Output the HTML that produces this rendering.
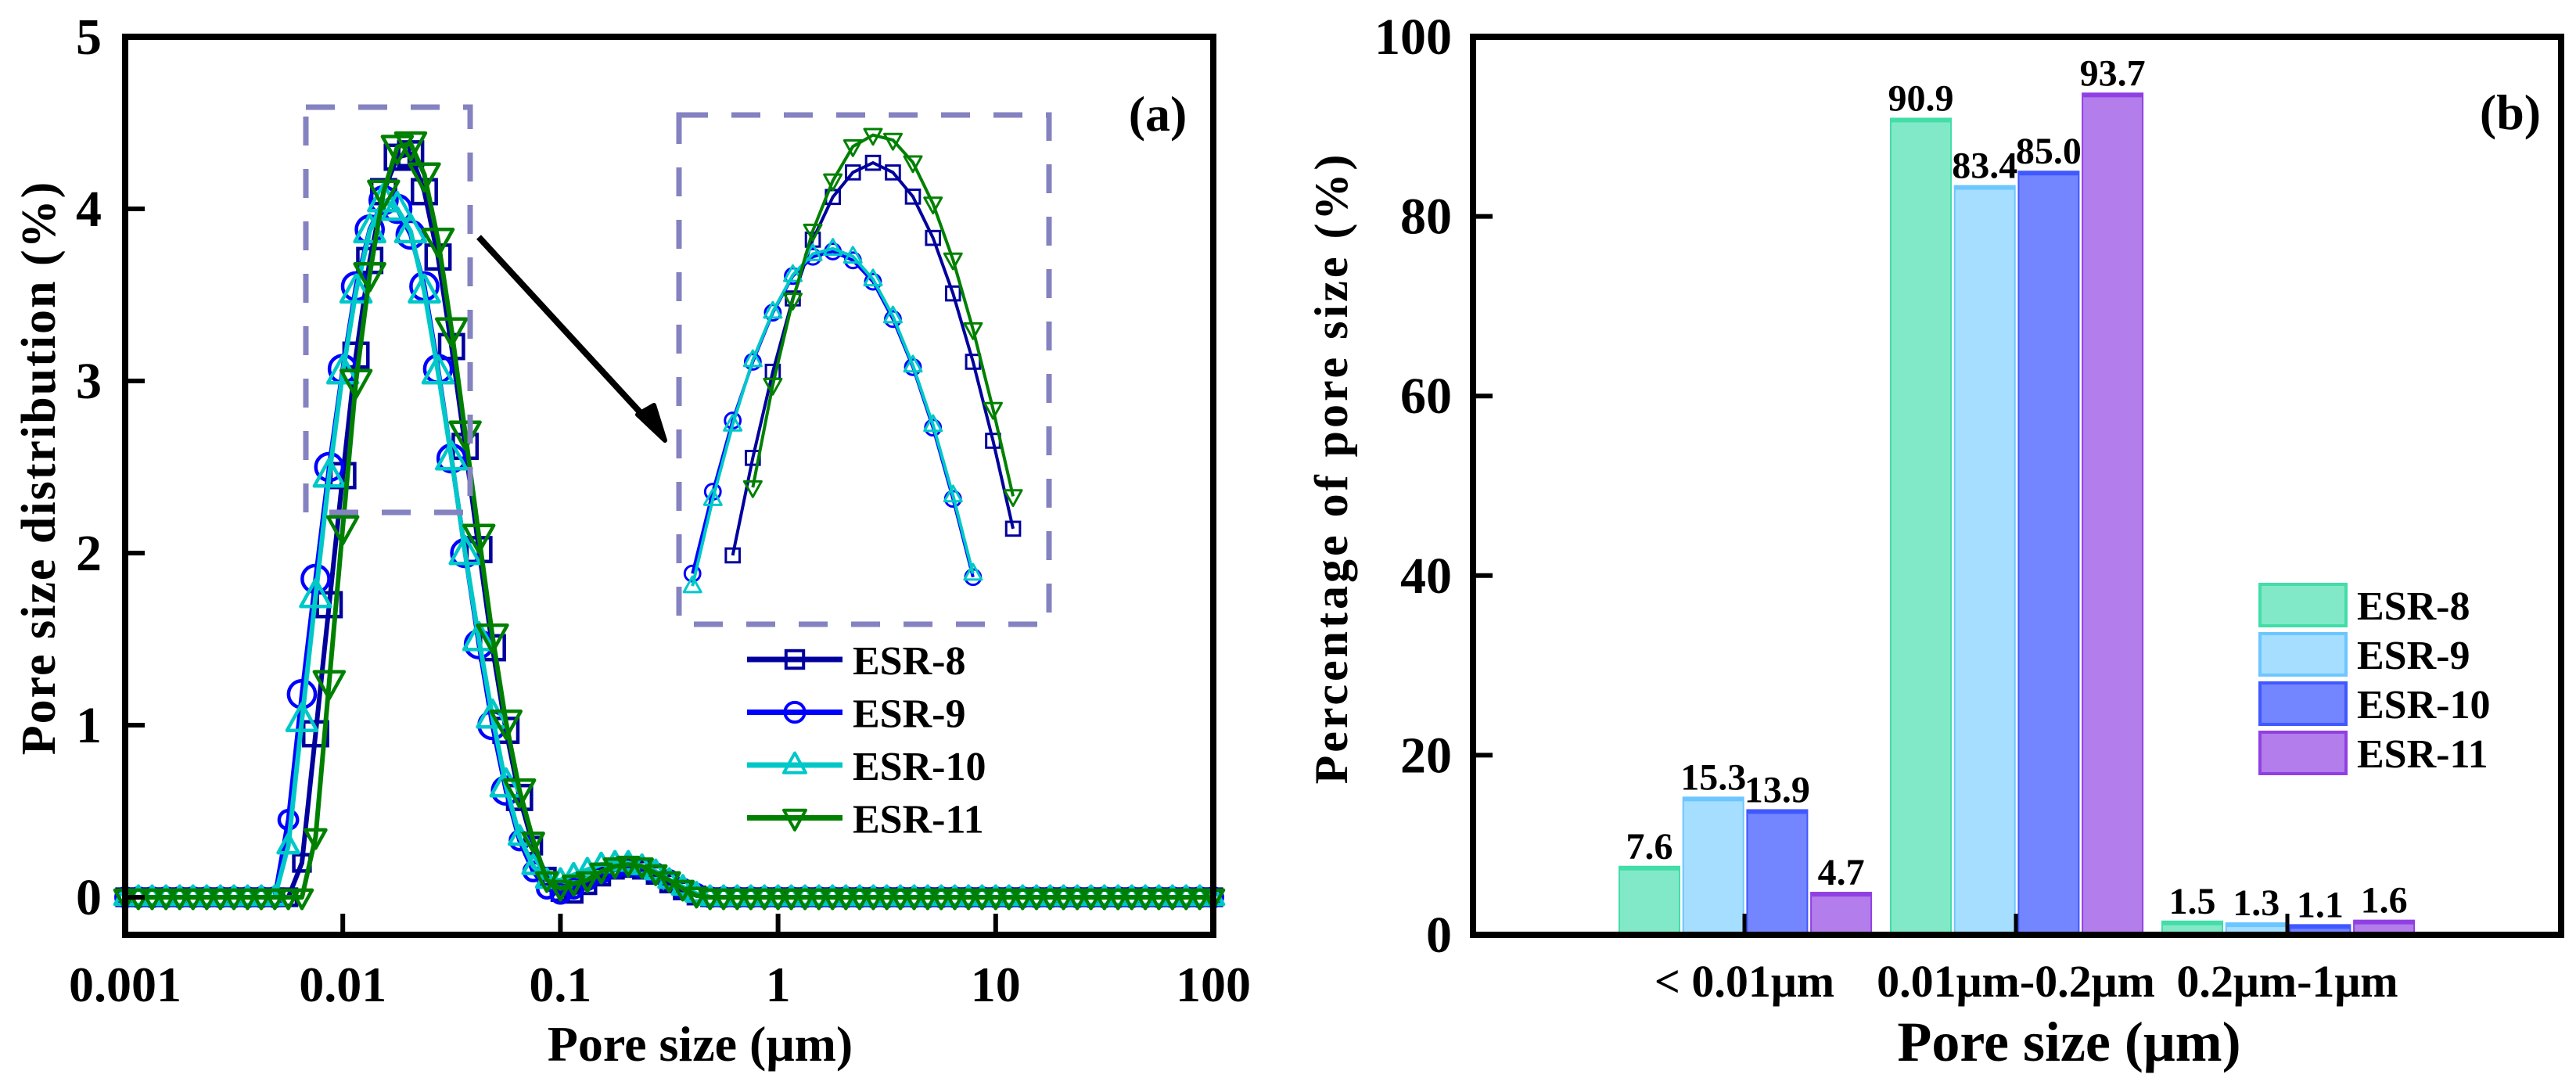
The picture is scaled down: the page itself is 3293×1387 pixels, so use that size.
<!DOCTYPE html>
<html><head><meta charset="utf-8">
<style>
html,body{margin:0;padding:0;background:#fff;}
svg{display:block;font-family:"Liberation Serif",serif;font-weight:bold;}
</style></head>
<body>
<svg id="fig" width="3293" height="1387" viewBox="0 0 3293 1387" xmlns="http://www.w3.org/2000/svg">
<g id="panelA"></g>
<g id="panelB"></g>
</svg>
<script>
// ---------- Panel (a) data ----------
const poreSizes = [0.001,0.00115,0.00133,0.00154,0.00178,0.00205,0.00237,0.00274,0.00316,0.00365,0.00422,0.00487,0.00562,0.00649,0.0075,0.00866,
0.01,0.0115,0.0133,0.0154,0.0178,0.0205,0.0237,0.0274,0.0316,0.0365,0.0422,0.0487,0.0562,0.0649,0.075,0.0866,
0.1,0.115,0.133,0.154,0.178,0.205,0.237,0.274,0.316,0.365,0.422,0.487,0.562,0.649,0.75,0.866,
1,1.15,1.33,1.54,1.78,2.05,2.37,2.74,3.16,3.65,4.22,4.87,5.62,6.49,7.5,8.66,
10,11.5,13.3,15.4,17.8,20.5,23.7,27.4,31.6,36.5,42.2,48.7,56.2,64.9,75,86.6,100];
const esr8 = [0,0,0,0,0,0,0,0,0,0,0,0,0,0.2,0.95,1.7,2.45,3.15,3.7,4.1,4.3,4.32,4.1,3.72,3.2,2.62,2.02,1.45,0.97,0.58,0.3,0.12,0.03,0.02,0.07,0.12,0.16,0.17,0.16,0.13,0.08,0.04,0.01,0,0,0,0,0,0,0,0,0,0,0,0,0,0,0,0,0,0,0,0,0,0,0,0,0,0,0,0,0,0,0,0,0,0,0,0,0,0];
const esr9 = [0,0,0,0,0,0,0,0,0,0,0,0,0.45,1.18,1.85,2.5,3.07,3.55,3.88,4.05,4.0,3.85,3.55,3.07,2.55,2.0,1.47,1.0,0.62,0.33,0.15,0.05,0.02,0.05,0.1,0.14,0.17,0.18,0.17,0.14,0.1,0.05,0.02,0,0,0,0,0,0,0,0,0,0,0,0,0,0,0,0,0,0,0,0,0,0,0,0,0,0,0,0,0,0,0,0,0,0,0,0,0,0];
const esr10 = [0,0,0,0,0,0,0,0,0,0,0,0,0.3,1.03,1.75,2.45,3.05,3.52,3.87,4.05,4.0,3.87,3.52,3.05,2.55,2.0,1.5,1.05,0.65,0.35,0.18,0.1,0.1,0.13,0.16,0.19,0.2,0.2,0.18,0.15,0.1,0.06,0.02,0,0,0,0,0,0,0,0,0,0,0,0,0,0,0,0,0,0,0,0,0,0,0,0,0,0,0,0,0,0,0,0,0,0,0,0,0,0];
const esr11 = [0,0,0,0,0,0,0,0,0,0,0,0,0,0,0.35,1.25,2.15,3.0,3.62,4.1,4.36,4.38,4.2,3.82,3.3,2.7,2.1,1.52,1.02,0.62,0.33,0.1,0.05,0.08,0.1,0.15,0.18,0.19,0.18,0.14,0.1,0.05,0.01,0,0,0,0,0,0,0,0,0,0,0,0,0,0,0,0,0,0,0,0,0,0,0,0,0,0,0,0,0,0,0,0,0,0,0,0,0,0];
const xTickValues = [0.001,0.01,0.1,1,10,100];
const xTickLabels = ["0.001","0.01","0.1","1","10","100"];
const yTickValues = [0,1,2,3,4,5];
// inset (magnified peak)
const insetSizes = [0.01045,0.01117,0.01192,0.01273,0.01359,0.01451,0.01549,0.01654,0.01766,0.01886,0.02013,0.02149,0.02295,0.0245,0.02616,0.02793,0.02982];
const insetEsr8 = [null,null,3.191,3.465,3.707,3.913,4.078,4.198,4.267,4.294,4.267,4.199,4.083,3.927,3.735,3.513,3.266];
const insetEsr9 = [3.14,3.37,3.57,3.735,3.873,3.976,4.03,4.045,4.02,3.96,3.855,3.72,3.55,3.35,3.13,null,null];
const insetEsr10 = [3.105,3.35,3.559,3.74,3.876,3.979,4.038,4.053,4.031,3.967,3.863,3.725,3.558,3.36,3.14,null,null];
const insetEsr11 = [null,null,null,3.382,3.67,3.909,4.103,4.244,4.34,4.372,4.358,4.295,4.179,4.022,3.826,3.602,3.357];

// ---------- Panel (b) data ----------
const categories = ["< 0.01μm","0.01μm-0.2μm","0.2μm-1μm"];
const barEsr8 = [7.6,90.9,1.5];
const barEsr9 = [15.3,83.4,1.3];
const barEsr10 = [13.9,85.0,1.1];
const barEsr11 = [4.7,93.7,1.6];
const barLabels8 = ["7.6","90.9","1.5"];
const barLabels9 = ["15.3","83.4","1.3"];
const barLabels10 = ["13.9","85.0","1.1"];
const barLabels11 = ["4.7","93.7","1.6"];
const yTicksB = [0,20,40,60,80,100];

const NS="http://www.w3.org/2000/svg";
function mk(parent,tag,attrs,text){const e=document.createElementNS(NS,tag);for(const k in attrs)e.setAttribute(k,attrs[k]);if(text!==undefined)e.textContent=text;parent.appendChild(e);return e;}

// ===== Panel A =====
const A=document.getElementById('panelA');
const aL=160,aR=1551,aT=47,aB=1195,y0=1147,yUnit=220;
const xA=v=>aL+(Math.log10(v)+3)*((aR-aL)/5);
const yA=v=>y0-v*yUnit;

const series=[
 {name:'ESR-8',data:esr8,inset:insetEsr8,color:'#00009C',marker:'square'},
 {name:'ESR-9',data:esr9,inset:insetEsr9,color:'#0000FF',marker:'circle'},
 {name:'ESR-10',data:esr10,inset:insetEsr10,color:'#00C8C8',marker:'up'},
 {name:'ESR-11',data:esr11,inset:insetEsr11,color:'#008000',marker:'down'}
];
function marker(parent,type,x,y,s,color,sw){
 let e;
 if(type==='square') e=mk(parent,'rect',{x:x-s*0.4,y:y-s*0.4,width:s*0.8,height:s*0.8,fill:'none',stroke:color,'stroke-width':sw});
 else if(type==='circle') e=mk(parent,'circle',{cx:x,cy:y,r:s*0.45,fill:'none',stroke:color,'stroke-width':sw});
 else if(type==='up') e=mk(parent,'polygon',{points:`${x},${y-s*0.55} ${x-s*0.5},${y+s*0.35} ${x+s*0.5},${y+s*0.35}`,fill:'none',stroke:color,'stroke-width':sw,'stroke-linejoin':'round'});
 else e=mk(parent,'polygon',{points:`${x},${y+s*0.55} ${x-s*0.5},${y-s*0.35} ${x+s*0.5},${y-s*0.35}`,fill:'none',stroke:color,'stroke-width':sw,'stroke-linejoin':'round'});
 return e;
}

series.forEach(s=>{
 const g=mk(A,'g',{});
 
 
 const pts=s.data.map((v,i)=>xA(poreSizes[i])+','+yA(v)).join(' ');
 const pl=mk(g,'polyline',{points:pts,fill:'none',stroke:s.color,'stroke-width':6,'stroke-linejoin':'round'});
 
 
 s.data.forEach((v,i)=>{
   const m=marker(g,s.marker,xA(poreSizes[i]),yA(v),(v>0.5?38:26),s.color,4.5);
   
   
 });
});

const dashC='#8482C0';
const sb=mk(A,'rect',{x:391,y:137,width:210,height:518,fill:'none',stroke:dashC,'stroke-width':7,'stroke-dasharray':'37 30'});


const ar=mk(A,'g',{});


mk(ar,'line',{x1:612,y1:303,x2:832,y2:542,stroke:'#000','stroke-width':8});
mk(ar,'polygon',{points:'850,563 815,530 836,518',fill:'#000',stroke:'#000','stroke-width':6,'stroke-linejoin':'round'});

const iL=868,iR=1341,iT=147,iB=798;
const xI=v=>iL+(Math.log10(v)+2.0)*900;
const yI=v=>169+(4.38-v)*455;
const ib=mk(A,'rect',{x:iL,y:iT,width:iR-iL,height:iB-iT,fill:'none',stroke:dashC,'stroke-width':7,'stroke-dasharray':'37 30'});


const ig=mk(A,'g',{});


series.forEach(s=>{
 const pts=[];
 s.inset.forEach((v,i)=>{if(v!==null)pts.push(xI(insetSizes[i])+','+yI(v));});
 const pl=mk(ig,'polyline',{points:pts.join(' '),fill:'none',stroke:s.color,'stroke-width':4});
 
 
 s.inset.forEach((v,i)=>{ if(v===null) return;
   const m=marker(ig,s.marker,xI(insetSizes[i]),yI(v),22,s.color,3);
   
   
 });
});

const fa=mk(A,'path',{d:`M${aL},${aT} H${aR} V${aB} H${aL} Z`,fill:'none',stroke:'#000','stroke-width':8});


yTickValues.forEach(v=>{
 const y=yA(v);
 if(v<5) mk(A,'line',{x1:aL,y1:y,x2:aL+25,y2:y,stroke:'#000','stroke-width':6});
 const t=mk(A,'text',{x:130,y:y+22,'text-anchor':'end','font-size':66},String(v));
 
 
});
xTickValues.forEach((v,i)=>{
 const x=xA(v);
 if(i>0&&i<5) mk(A,'line',{x1:x,y1:aB,x2:x,y2:aB-27,stroke:'#000','stroke-width':6});
 const t=mk(A,'text',{x:x,y:1280,'text-anchor':'middle','font-size':64},xTickLabels[i]);
 
 
});
let t=mk(A,'text',{x:895,y:1356,'text-anchor':'middle','font-size':64},'Pore size (μm)');


t=mk(A,'text',{x:0,y:0,'text-anchor':'middle','font-size':62,'letter-spacing':2,transform:'translate(70,598) rotate(-90)'},'Pore size distribution (%)');


t=mk(A,'text',{x:1480,y:167,'text-anchor':'middle','font-size':64},'(a)');


const legA=mk(A,'g',{});


series.forEach((s,i)=>{
 const y=843+i*67.5;
 const g=mk(legA,'g',{});
 
 
 mk(g,'line',{x1:955,y1:y,x2:1077,y2:y,stroke:s.color,'stroke-width':7});
 marker(g,s.marker,1016,y,28,s.color,4);
 mk(g,'text',{x:1090,y:y+19,'font-size':52},s.name);
});

// ===== Panel B =====
const B=document.getElementById('panelB');
const bL=1883,bR=3274,bT=47,bB=1195;
const yB=v=>bB-v*((bB-bT)/100);
const groupCenters=[2230,2577,2924];
const barSeries=[
 {name:'ESR-8',vals:barEsr8,labels:barLabels8,fill:'#82E9C8',stroke:'#43DDA8'},
 {name:'ESR-9',vals:barEsr9,labels:barLabels9,fill:'#A6DEFF',stroke:'#6CC6FF'},
 {name:'ESR-10',vals:barEsr10,labels:barLabels10,fill:'#7385FF',stroke:'#3F58FF'},
 {name:'ESR-11',vals:barEsr11,labels:barLabels11,fill:'#B37DEB',stroke:'#9040E2'}
];
barSeries.forEach((s,j)=>{
 const g=mk(B,'g',{});
 
 
 s.vals.forEach((v,c)=>{
  const x=groupCenters[c]-160+j*81.7, w=77, top=yB(v);
  const r=mk(g,'rect',{x:x,y:top,width:w,height:bB-top,fill:s.fill,stroke:s.stroke,'stroke-width':2});
  
  
  mk(g,'rect',{x:x,y:top,width:w,height:5,fill:s.stroke});
  const lt=mk(g,'text',{x:x+w/2,y:top-10,'text-anchor':'middle','font-size':48},s.labels[c]);
  
  
 });
});
const fb=mk(B,'path',{d:`M${bL},${bT} H${bR} V${bB} H${bL} Z`,fill:'none',stroke:'#000','stroke-width':8});


yTicksB.forEach(v=>{
 const y=yB(v);
 if(v<100) mk(B,'line',{x1:bL,y1:y,x2:bL+25,y2:y,stroke:'#000','stroke-width':6});
 const tt=mk(B,'text',{x:1856,y:y+22,'text-anchor':'end','font-size':66},String(v));
 
 
});
groupCenters.forEach((x,c)=>{
 mk(B,'line',{x1:x,y1:bB,x2:x,y2:bB-27,stroke:'#000','stroke-width':5});
 const tt=mk(B,'text',{x:x,y:1274,'text-anchor':'middle','font-size':58},categories[c]);
 
 
});
t=mk(B,'text',{x:2645,y:1356,'text-anchor':'middle','font-size':72},'Pore size (μm)');


t=mk(B,'text',{x:0,y:0,'text-anchor':'middle','font-size':60,'letter-spacing':4,transform:'translate(1722,598) rotate(-90)'},'Percentage of pore size (%)');


t=mk(B,'text',{x:3209,y:165,'text-anchor':'middle','font-size':64},'(b)');


const legB=mk(B,'g',{});


barSeries.forEach((s,i)=>{
 const y=745+i*63;
 const g=mk(legB,'g',{});
 
 
 mk(g,'rect',{x:2889,y:y+2,width:110,height:53,fill:s.fill,stroke:s.stroke,'stroke-width':4});
 mk(g,'text',{x:3013,y:y+47,'font-size':52},s.name);
});
</script>
</body></html>
